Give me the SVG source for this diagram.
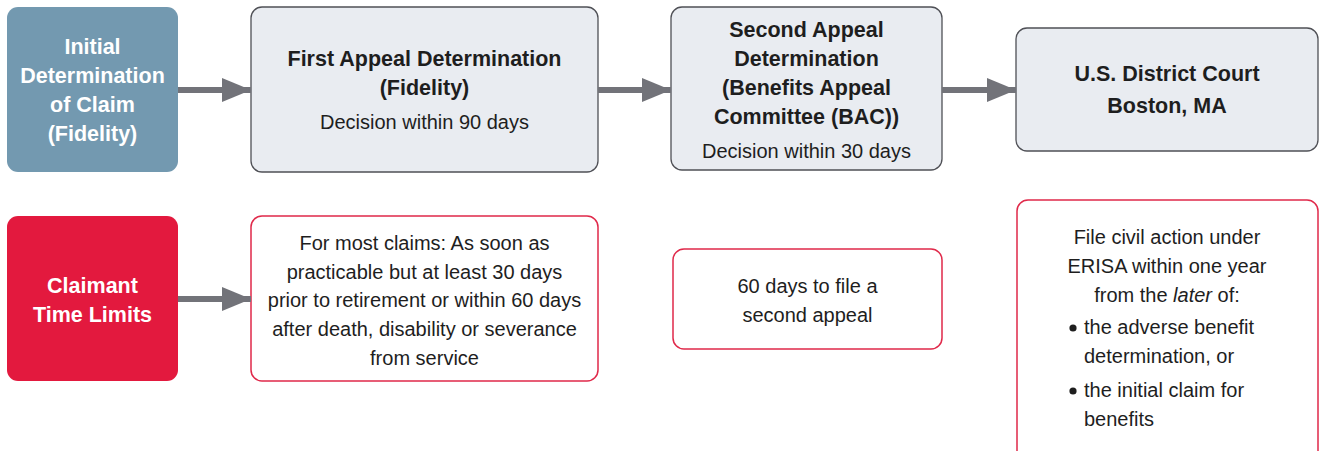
<svg xmlns="http://www.w3.org/2000/svg" width="1320" height="451" viewBox="0 0 1320 451">
<style>
text{font-family:"Liberation Sans",Arial,sans-serif;font-size:20px;text-anchor:middle;fill:#1e1e1e}
.b{font-weight:bold;font-size:21.5px}
.w{fill:#ffffff;font-weight:bold;font-size:21.5px}
.l{text-anchor:start}
.gray{fill:#e9ecf1;stroke:#4f5056;stroke-width:1.3}
.red{fill:#ffffff;stroke:#e0294a;stroke-width:1.5}
.conn line{stroke:#727379;stroke-width:6}
</style>
<defs>
<marker id="ah" markerUnits="userSpaceOnUse" markerWidth="30" markerHeight="24" refX="29" refY="12" orient="auto">
<path d="M0,0 L29,12 L0,24 Z" fill="#727379"/>
</marker>
</defs>
<g id="initial">
<rect x="7" y="7" width="171" height="165" rx="11" fill="#7399b0"/>
<text class="w" x="92.5" y="54">Initial</text>
<text class="w" x="92.5" y="83">Determination</text>
<text class="w" x="92.5" y="112">of Claim</text>
<text class="w" x="92.5" y="141">(Fidelity)</text>
</g>
<g id="first-appeal">
<rect class="gray" x="251" y="7" width="347" height="165" rx="11"/>
<text class="b" x="424.5" y="66">First Appeal Determination</text>
<text class="b" x="424.5" y="95">(Fidelity)</text>
<text x="424.5" y="129">Decision within 90 days</text>
</g>
<g id="second-appeal">
<rect class="gray" x="671" y="7" width="271" height="163" rx="11"/>
<text class="b" x="806.5" y="37">Second Appeal</text>
<text class="b" x="806.5" y="66">Determination</text>
<text class="b" x="806.5" y="95">(Benefits Appeal</text>
<text class="b" x="806.5" y="124">Committee (BAC))</text>
<text x="806.5" y="158">Decision within 30 days</text>
</g>
<g id="district-court">
<rect class="gray" x="1016" y="28" width="302" height="123" rx="11"/>
<text class="b" x="1167" y="81">U.S. District Court</text>
<text class="b" x="1167" y="113">Boston, MA</text>
</g>
<g id="claimant">
<rect x="7" y="216" width="171" height="165" rx="11" fill="#e3193e"/>
<text class="w" x="92.5" y="293">Claimant</text>
<text class="w" x="92.5" y="322">Time Limits</text>
</g>
<g id="most-claims">
<rect class="red" x="251" y="216" width="347" height="165" rx="11"/>
<text x="424.5" y="250">For most claims: As soon as</text>
<text x="424.5" y="279">practicable but at least 30 days</text>
<text x="424.5" y="307">prior to retirement or within 60 days</text>
<text x="424.5" y="336">after death, disability or severance</text>
<text x="424.5" y="365">from service</text>
</g>
<g id="sixty-days">
<rect class="red" x="673" y="249" width="269" height="100" rx="11"/>
<text x="807.5" y="293">60 days to file a</text>
<text x="807.5" y="322">second appeal</text>
</g>
<g id="civil-action">
<rect class="red" x="1017" y="200" width="301" height="262" rx="11"/>
<text x="1167" y="244">File civil action under</text>
<text x="1167" y="273">ERISA within one year</text>
<text x="1167" y="302">from the <tspan font-style="italic">later</tspan> of:</text>
<circle cx="1073" cy="328" r="3.6" fill="#1e1e1e"/>
<text class="l" x="1084" y="334">the adverse benefit</text>
<text class="l" x="1084" y="363">determination, or</text>
<circle cx="1073" cy="391" r="3.6" fill="#1e1e1e"/>
<text class="l" x="1084" y="397">the initial claim for</text>
<text class="l" x="1084" y="426">benefits</text>
</g>
<g id="connectors" class="conn">
<line x1="178" y1="90" x2="251" y2="90" marker-end="url(#ah)"/>
<line x1="598" y1="90" x2="671" y2="90" marker-end="url(#ah)"/>
<line x1="942" y1="90" x2="1016" y2="90" marker-end="url(#ah)"/>
<line x1="178" y1="299" x2="251" y2="299" marker-end="url(#ah)"/>
</g>
</svg>
